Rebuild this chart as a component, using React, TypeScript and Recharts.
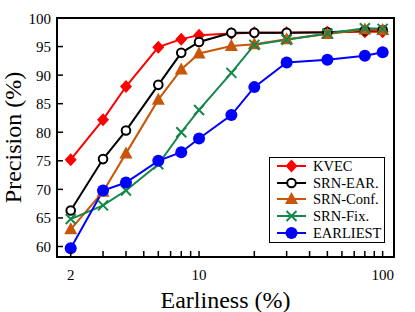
import { LineChart, Line, XAxis, YAxis, ReferenceArea, Legend } from "recharts";

// earliness (%) on a log axis
const EARLINESS = [2, 3, 4, 6, 8, 10, 15, 20, 30, 50, 80, 100];

// precision (%) per method
const KVEC = [75.2, 82.2, 88.0, 94.9, 96.3, 97.0, 97.3, 97.4, 97.4, 97.5, 97.6, 97.6];
const SRN_EAR = [66.3, 75.3, 80.3, 88.3, 93.9, 95.8, 97.4, 97.4, 97.4, 97.5, 97.8, 97.9];
const SRN_CONF = [63.0, 69.6, 76.3, 85.7, 91.0, 93.8, 95.1, 95.4, 96.3, 97.2, 98.0, 97.9];
const SRN_FIX = [64.8, 67.2, 69.8, 74.4, 80.0, 83.9, 90.4, 95.3, 96.2, 97.3, 98.2, 98.1];
const EARLIEST = [59.7, 69.8, 71.2, 75.0, 76.5, 78.9, 83.0, 87.9, 92.2, 92.7, 93.4, 94.0];

const X_TICKS = [2, 3, 4, 5, 6, 7, 8, 9, 10, 20, 30, 40, 50, 60, 70, 80, 90, 100];
const X_LABELS = [2, 10, 100];
const Y_TICKS = [60, 65, 70, 75, 80, 85, 90, 95, 100];

const X_DOMAIN: [number, number] = [1.684, 115.3];
const Y_DOMAIN: [number, number] = [58.16, 100];

const SERIES = [
  { key: "kvec", name: "KVEC", color: "#ff0000", marker: "diamond", values: KVEC },
  { key: "ear", name: "SRN-EAR.", color: "#000000", marker: "ring", values: SRN_EAR },
  { key: "conf", name: "SRN-Conf.", color: "#c85508", marker: "triangle", values: SRN_CONF },
  { key: "fix", name: "SRN-Fix.", color: "#14874a", marker: "cross", values: SRN_FIX },
  { key: "earliest", name: "EARLIEST", color: "#0000ff", marker: "circle", values: EARLIEST },
];

const data = EARLINESS.map((x, i) => {
  const row: Record<string, number> = { x };
  SERIES.forEach((s) => (row[s.key] = s.values[i]));
  return row;
});

const FONT = "Liberation Serif, Times New Roman, serif";
const txt = { fontFamily: FONT };

function Marker({ type, cx, cy, color }: { type: string; cx: number; cy: number; color: string }) {
  switch (type) {
    case "diamond":
      return <polygon points={`${cx},${cy - 6.5} ${cx + 6},${cy} ${cx},${cy + 6.5} ${cx - 6},${cy}`} fill={color} />;
    case "ring":
      return <circle cx={cx} cy={cy} r={4.3} fill="#fff" stroke={color} strokeWidth={2} />;
    case "triangle":
      return <polygon points={`${cx},${cy - 7} ${cx + 6.5},${cy + 5} ${cx - 6.5},${cy + 5}`} fill={color} />;
    case "cross":
      return (
        <path
          d={`M${cx - 5},${cy - 5}L${cx + 5},${cy + 5}M${cx - 5},${cy + 5}L${cx + 5},${cy - 5}`}
          stroke={color}
          strokeWidth={2}
          fill="none"
        />
      );
    default:
      return <circle cx={cx} cy={cy} r={6} fill={color} />;
  }
}

const XTick = (props: any) => {
  const { x, y, payload } = props;
  const v = payload.value;
  return (
    <g>
      <line x1={x} x2={x} y1={y} y2={y - 6} stroke="#000" strokeWidth={1.5} />
      {X_LABELS.includes(v) && (
        <text x={x} y={y + 23} textAnchor="middle" fontSize={15} fill="#000" style={txt}>
          {v}
        </text>
      )}
    </g>
  );
};

const YTick = (props: any) => {
  const { x, y, payload } = props;
  return (
    <g>
      <line x1={x} x2={x + 6} y1={y} y2={y} stroke="#000" strokeWidth={1.5} />
      <text x={x - 6} y={y + 5.5} textAnchor="end" fontSize={15} fill="#000" style={txt}>
        {payload.value}
      </text>
    </g>
  );
};

const XTitle = (props: any) => {
  const vb = props.viewBox;
  return (
    <text x={vb.x + vb.width / 2} y={vb.y + 51} textAnchor="middle" fontSize={24} fill="#000" style={txt}>
      Earliness (%)
    </text>
  );
};

const YTitle = (props: any) => {
  const vb = props.viewBox;
  const cx = vb.x + 21;
  const cy = vb.y + vb.height / 2;
  return (
    <text
      x={cx}
      y={cy}
      transform={`rotate(-90 ${cx} ${cy})`}
      textAnchor="middle"
      fontSize={24}
      fill="#000"
      style={txt}
    >
      Precision (%)
    </text>
  );
};

const renderLegend = () => (
  <div
    style={{
      border: "1.5px solid #000",
      background: "#fff",
      width: 116,
      height: 86,
      boxSizing: "border-box",
      paddingLeft: 6,
      fontFamily: FONT,
    }}
  >
    {SERIES.map((s) => (
      <div key={s.key} style={{ display: "flex", alignItems: "center", height: 16.6 }}>
        <svg width={31} height={16} style={{ overflow: "visible" }}>
          <line x1={1} x2={30} y1={8} y2={8} stroke={s.color} strokeWidth={2} />
          <Marker type={s.marker} cx={15.5} cy={8} color={s.color} />
        </svg>
        <span style={{ marginLeft: 6, fontSize: 14.5, lineHeight: "16px", color: "#000", fontFamily: FONT }}>
          {s.name}
        </span>
      </div>
    ))}
  </div>
);

export default function App() {
  return (
    <div style={{ position: "absolute", left: 0, top: 0, width: 415, height: 312, background: "#fff", fontFamily: FONT }}>
      <LineChart width={415} height={312} data={data} margin={{ top: 18, right: 21, bottom: 0, left: 0 }}>
        <XAxis
          dataKey="x"
          type="number"
          scale="log"
          domain={X_DOMAIN}
          allowDataOverflow
          ticks={X_TICKS}
          interval={0}
          tick={<XTick />}
          tickSize={0}
          tickMargin={0}
          tickLine={false}
          axisLine={false}
          height={55}
          label={<XTitle />}
        />
        <YAxis
          type="number"
          domain={Y_DOMAIN}
          allowDataOverflow
          ticks={Y_TICKS}
          interval={0}
          tick={<YTick />}
          tickSize={0}
          tickMargin={0}
          tickLine={false}
          axisLine={false}
          width={57}
          label={<YTitle />}
        />
        <ReferenceArea
          x1={X_DOMAIN[0]}
          x2={X_DOMAIN[1]}
          y1={Y_DOMAIN[0]}
          y2={Y_DOMAIN[1]}
          fill="none"
          stroke="#000"
          strokeWidth={2}
          ifOverflow="visible"
        />
        {SERIES.map((s) => (
          <Line
            key={s.key}
            dataKey={s.key}
            name={s.name}
            type="linear"
            stroke={s.color}
            strokeWidth={2}
            isAnimationActive={false}
            dot={(p: any) => <Marker key={`${s.key}-${p.index}`} type={s.marker} cx={p.cx} cy={p.cy} color={s.color} />}
            activeDot={false}
          />
        ))}
        <Legend
          layout="horizontal"
          verticalAlign="middle"
          align="center"
          content={renderLegend}
          wrapperStyle={{ left: 269, top: 157, width: 116, height: 86 }}
        />
      </LineChart>
    </div>
  );
}
